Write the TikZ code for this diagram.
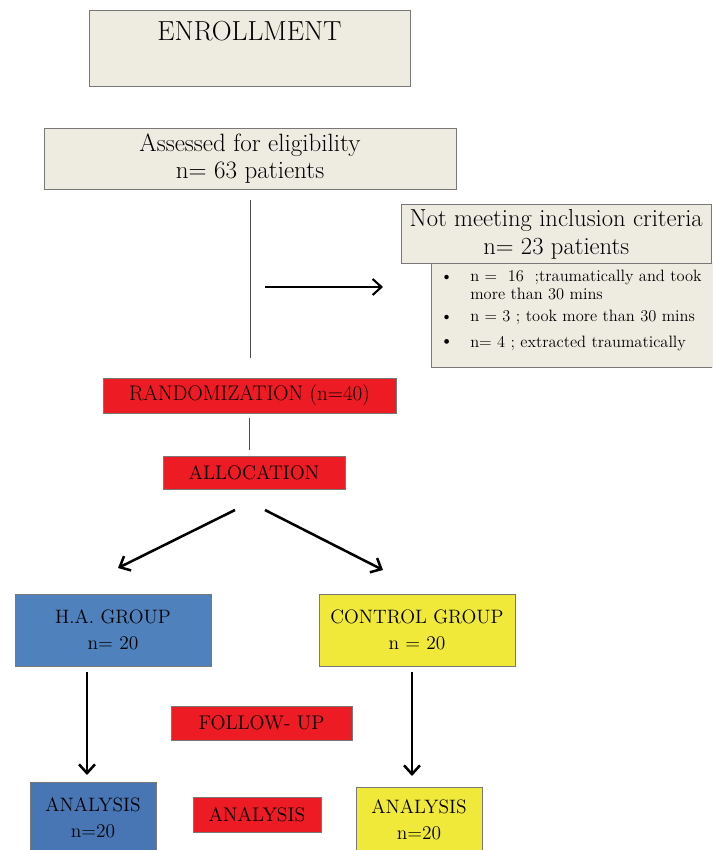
\documentclass[tikz,border=0pt]{standalone}
\usepackage{tikz}
\usetikzlibrary{arrows.meta}
\definecolor{boxgrey}{RGB}{238,236,225}
\definecolor{boxred}{RGB}{237,28,36}
\definecolor{boxblue}{RGB}{79,129,189}
\definecolor{boxdarkblue}{RGB}{72,118,180}
\definecolor{boxyellow}{RGB}{240,233,58}
\definecolor{edgegrey}{RGB}{120,120,120}

\begin{document}
\begin{tikzpicture}[
    greybox/.style={draw=edgegrey, fill=boxgrey, line width=0.7pt, inner sep=0pt, align=center},
    redbox/.style={draw=edgegrey, fill=boxred, line width=0.5pt, inner sep=0pt,
        font=\fontsize{14}{17}\selectfont},
    groupbox/.style={draw=edgegrey, line width=0.5pt, inner sep=0pt, align=center,
        font=\fontsize{13.8}{18.5}\selectfont},
    itemtext/.style={anchor=base west, inner sep=0pt, font=\fontsize{11.7}{12}\selectfont},
    thinline/.style={draw=black!70, line width=0.6pt},
    flowarrow/.style={line width=1.8pt, -{Straight Barb[length=2.2mm, width=4mm]}}
]
    \useasboundingbox (0,0) rectangle (17.8,-21.25);
    \clip (0,0) rectangle (17.8,-21.25);

    % enrollment and eligibility
    \node[greybox, minimum width=8.025cm, minimum height=1.9cm] (enroll) at (6.2375,-1.2) {};
    \node[font=\fontsize{19.6}{22}\selectfont, inner sep=0pt] (enrolltext) at (6.2375,-0.775) {ENROLLMENT};
    \node[greybox, minimum width=10.3cm, minimum height=1.525cm,
        font=\fontsize{17.8}{19}\selectfont] (assess) at (6.25,-3.9625)
        {Assessed for eligibility\\n= 63 patients};

    % excluded patients
    \node[greybox, minimum width=7.025cm, minimum height=2.625cm] (reasons) at (14.2875,-7.8625) {};
    \node[greybox, minimum width=7.7625cm, minimum height=1.475cm,
        font=\fontsize{17.5}{20}\selectfont] (notmeet) at (13.906,-5.85)
        {Not meeting inclusion criteria\\n= 23 patients};

    \node[itemtext] (bul1) at (11.0,-7.04) {\textbullet};
    \node[itemtext] (item1a) at (11.75,-7.04) {n = \ 16 \ ;traumatically and took};
    \node[itemtext] (item1b) at (11.75,-7.475) {more than 30 mins};
    \node[itemtext] (bul2) at (11.0,-8.04) {\textbullet};
    \node[itemtext] (item2) at (11.75,-8.04) {n = 3 ; took more than 30 mins};
    \node[itemtext, font=\fontsize{15}{15}\selectfont] (bul3) at (10.97,-8.69) {\textbullet};
    \node[itemtext] (item3) at (11.75,-8.69) {n= 4 ; extracted traumatically};

    \coordinate (exclfrom) at (6.625,-7.175);
    \coordinate (exclto) at (9.575,-7.175);
    \draw[flowarrow, line width=1.5pt] (exclfrom) -- (exclto);

    % randomization
    \node[redbox, minimum width=7.325cm, minimum height=0.875cm, font=\fontsize{15}{17}\selectfont] (rand)
        at (6.2375,-9.8875) {RANDOMIZATION (n=40)};
    \node[redbox, minimum width=4.55cm, minimum height=0.825cm] (alloc) at (6.35,-11.8125) {ALLOCATION};

    \draw[thinline, shorten <=0.275cm, shorten >=0.5cm] (assess.south) -- (assess.south |- rand.north);
    \draw[thinline, shorten <=0.125cm, shorten >=0.15cm] (rand.south) -- (rand.south |- alloc.north);

    % groups
    \node[groupbox, fill=boxblue, minimum width=4.9cm, minimum height=1.8cm] (hagroup) at (2.825,-15.75)
        {H.A. GROUP\\n= 20};
    \node[groupbox, fill=boxyellow, minimum width=4.9cm, minimum height=1.8cm] (ctrlgroup) at (10.425,-15.75)
        {CONTROL GROUP\\n = 20};

    \coordinate (splitleft) at (5.875,-12.75);
    \coordinate (hain) at (2.95,-14.2);
    \coordinate (splitright) at (6.625,-12.75);
    \coordinate (ctrlin) at (9.575,-14.25);
    \draw[flowarrow] (splitleft) -- (hain);
    \draw[flowarrow] (splitright) -- (ctrlin);

    % follow-up and analysis
    \node[redbox, minimum width=4.525cm, minimum height=0.85cm] (followup) at (6.5375,-18.075) {FOLLOW- UP};

    \node[groupbox, fill=boxdarkblue, minimum width=3.15cm, minimum height=1.775cm] (haanalysis) at (2.325,-20.4375)
        {ANALYSIS\\n=20};
    \node[redbox, minimum width=3.2cm, minimum height=0.875cm] (analysis) at (6.425,-20.3625) {ANALYSIS};
    \node[groupbox, fill=boxyellow, minimum width=3.15cm, minimum height=1.65cm] (ctrlanalysis) at (10.475,-20.5)
        {ANALYSIS\\n=20};

    \coordinate (haout) at (2.175,-16.8);
    \coordinate (haend) at (2.175,-19.375);
    \coordinate (ctrlout) at (10.3,-16.8);
    \coordinate (ctrlend) at (10.3,-19.4);
    \draw[flowarrow] (haout) -- (haend);
    \draw[flowarrow] (ctrlout) -- (ctrlend);
\end{tikzpicture}
\end{document}
